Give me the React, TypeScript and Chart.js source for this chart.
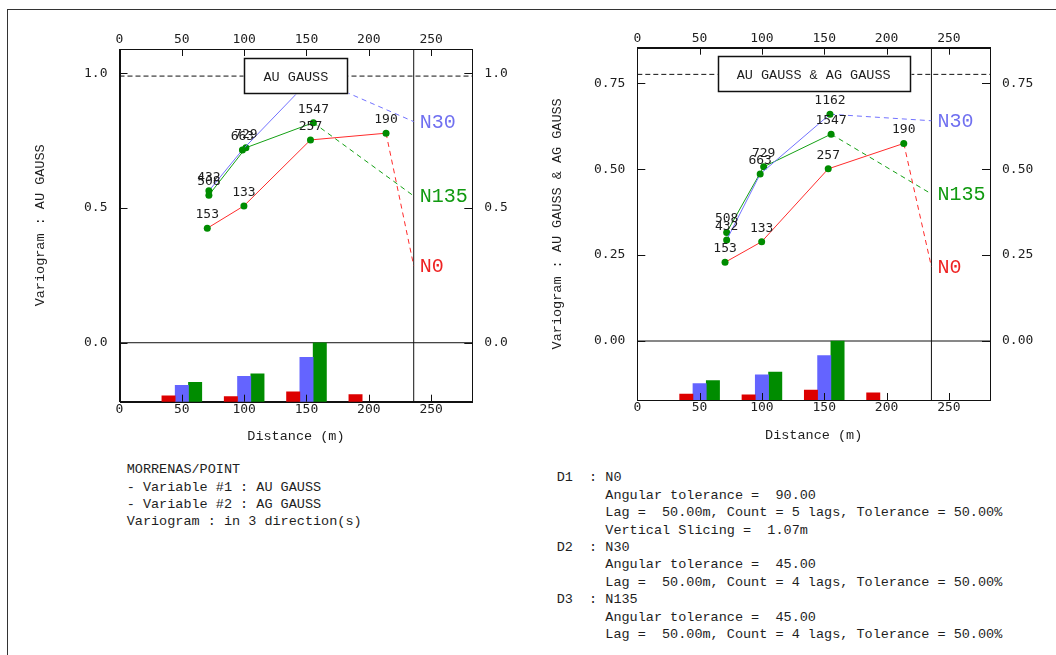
import React, { useEffect, useRef } from "react";
import { Chart, registerables } from "chart.js";

Chart.register(...registerables);

// Directions of the experimental variograms
const DIRECTIONS = ["N0", "N30", "N135"];
// Lag centres used for the pair-count histogram
const LAG_CENTRES = [50, 100, 150, 200];

// Mean pair distance of each lag (m)
const DIST_N0 = [70.4, 99.8, 153.2, 213.8];
const DIST_N30 = [71.7, 98.6, 154.6];
const DIST_N135 = [71.7, 101.4, 155.5];

// Number of pairs in each lag
const PAIRS_N0 = [153, 133, 257, 190];
const PAIRS_N30 = [432, 663, 1162];
const PAIRS_N135 = [508, 729, 1547];

// AU GAUSS simple variogram
const AU_N0 = [0.425, 0.508, 0.753, 0.778];
const AU_N30 = [0.564, 0.716, 0.985];
const AU_N135 = [0.548, 0.724, 0.817];
const AU_END = [0.286, 0.821, 0.545];
const AU_SILL = 0.99;

// AU GAUSS & AG GAUSS cross-variogram
const AUAG_N0 = [0.229, 0.289, 0.501, 0.575];
const AUAG_N30 = [0.294, 0.486, 0.66];
const AUAG_N135 = [0.316, 0.507, 0.602];
const AUAG_END = [0.216, 0.641, 0.428];
const AUAG_SILL = 0.776;

// Axis ticks
const DIST_TICKS = [0, 50, 100, 150, 200, 250];
const AU_TICKS = [0, 0.5, 1.0];
const AUAG_TICKS = [0, 0.25, 0.5, 0.75];

const DIST_MAX = 283;
const MAX_DIST_LINE = 236;

const LINE_COLORS = ["#ff2b2b", "#7272ff", "#14a014"];
const BAR_COLORS = ["#dd0000", "#6464ff", "#008c00"];
const LABEL_COLORS = ["#ee2222", "#7070f0", "#119a11"];
const MARKER_COLOR = "#008c00";
const INK = "#1e1e1e";

const MONO = "'Liberation Mono', 'DejaVu Sans Mono', monospace";
const DIGITS = "'DejaVu Sans Mono', monospace";

const INFO_LEFT = [
  "MORRENAS/POINT",
  "- Variable #1 : AU GAUSS",
  "- Variable #2 : AG GAUSS",
  "Variogram : in 3 direction(s)",
];

const INFO_RIGHT = [
  "D1  : N0",
  "      Angular tolerance =  90.00",
  "      Lag =  50.00m, Count = 5 lags, Tolerance = 50.00%",
  "      Vertical Slicing =  1.07m",
  "D2  : N30",
  "      Angular tolerance =  45.00",
  "      Lag =  50.00m, Count = 4 lags, Tolerance = 50.00%",
  "D3  : N135",
  "      Angular tolerance =  45.00",
  "      Lag =  50.00m, Count = 4 lags, Tolerance = 50.00%",
];

type AxisSizes = {
  y: number;
  y2: number;
  x2: number;
  x: number;
  yTitlePad: number;
  xTitlePad: number;
};

type PanelProps = {
  title: string;
  yTitle: string;
  values: number[][];
  ends: number[];
  sill: number;
  yMin: number;
  yMax: number;
  yTicks: number[];
  decimals: number;
  left: number;
  top: number;
  width: number;
  height: number;
  axes: AxisSizes;
};

function VariogramPanel(p: PanelProps) {
  const ref = useRef<HTMLCanvasElement>(null);

  useEffect(() => {
    if (!ref.current) return;
    const dists = [DIST_N0, DIST_N30, DIST_N135];
    const pairs = [PAIRS_N0, PAIRS_N30, PAIRS_N135];
    const maxPairs = Math.max(...pairs.flat());
    // the largest pair count fills the strip below the zero line
    const countMax = (maxPairs * (p.yMax - p.yMin)) / (0 - p.yMin);

    const refLine = (label: string, data: { x: number; y: number }[], dash: number[]) => ({
      type: "line",
      label,
      data,
      borderColor: "#111",
      borderWidth: 1,
      borderDash: dash,
      pointRadius: 0,
      fill: false,
      xAxisID: "x",
      yAxisID: "y",
      order: 5,
    });

    const bars = pairs.map((pc, k) => ({
      type: "bar",
      label: DIRECTIONS[k] + " pairs",
      data: pc.map((c, i) => ({ x: LAG_CENTRES[i], y: c })),
      backgroundColor: BAR_COLORS[k],
      borderWidth: 0,
      barThickness: 13.3,
      grouped: true,
      xAxisID: "x",
      yAxisID: "yCount",
      order: 4,
    }));

    const lines = p.values.map((vals, k) => {
      const n = vals.length;
      return {
        type: "line",
        label: DIRECTIONS[k],
        data: [
          ...vals.map((v, i) => ({ x: dists[k][i], y: v })),
          { x: MAX_DIST_LINE, y: p.ends[k] },
        ],
        borderColor: LINE_COLORS[k],
        borderWidth: 1,
        tension: 0,
        fill: false,
        pointRadius: (c: any) => (c.dataIndex < n ? 3.5 : 0),
        pointHoverRadius: 0,
        pointBackgroundColor: MARKER_COLOR,
        pointBorderWidth: 0,
        segment: {
          borderDash: (c: any) => (c.p1DataIndex === n ? [5, 4] : undefined),
        },
        xAxisID: "x",
        yAxisID: "y",
        order: 1,
      };
    });

    const refs = [
      refLine("zero", [{ x: 0, y: 0 }, { x: DIST_MAX, y: 0 }], []),
      refLine("sill", [{ x: 0, y: p.sill }, { x: DIST_MAX, y: p.sill }], [5, 3]),
      refLine("max distance", [{ x: MAX_DIST_LINE, y: p.yMin }, { x: MAX_DIST_LINE, y: p.yMax }], []),
    ];

    const datasets: any[] = [...refs, ...bars, ...lines];
    const lineIndex = lines.map((_, k) => refs.length + bars.length + k);

    const tickFont = { family: DIGITS, size: 13, lineHeight: 1.2 };
    const titleFont = { family: MONO, size: 13.5, lineHeight: 1.2 };
    const grid = () => ({ display: true, drawOnChartArea: false, drawTicks: false, offset: false });
    const border = () => ({ display: true, color: "#111", width: 1 });

    const distAxis = (position: string, size: number, pad: number, title: any) => ({
      type: "linear",
      position,
      min: 0,
      max: DIST_MAX,
      offset: false,
      bounds: "data",
      grid: grid(),
      border: border(),
      afterBuildTicks: (s: any) => {
        s.ticks = DIST_TICKS.map((v) => ({ value: v }));
      },
      ticks: {
        font: tickFont,
        color: INK,
        padding: pad,
        maxRotation: 0,
        autoSkip: false,
        callback: (v: any) => String(v),
      },
      title,
      afterFit: (s: any) => {
        s.height = size;
      },
    });

    const valueAxis = (position: string, size: number, title: any) => ({
      type: "linear",
      position,
      min: p.yMin,
      max: p.yMax,
      offset: false,
      bounds: "data",
      grid: grid(),
      border: border(),
      afterBuildTicks: (s: any) => {
        s.ticks = p.yTicks.map((v) => ({ value: v }));
      },
      ticks: {
        font: tickFont,
        color: INK,
        padding: 12,
        autoSkip: false,
        callback: (v: any) => Number(v).toFixed(p.decimals),
      },
      title,
      afterFit: (s: any) => {
        s.width = size;
      },
    });

    const annotate = {
      id: "annotate",
      afterDatasetsDraw(chart: any) {
        const ctx = chart.ctx;
        const a = chart.chartArea;
        ctx.save();
        // pair counts above the experimental points
        ctx.font = `13px ${DIGITS}`;
        ctx.fillStyle = INK;
        ctx.textAlign = "center";
        ctx.textBaseline = "middle";
        lineIndex.forEach((di, k) => {
          const meta = chart.getDatasetMeta(di);
          pairs[k].forEach((c, i) => {
            const e = meta.data[i];
            ctx.fillText(String(c), e.x, e.y - 13.5);
          });
        });
        // direction names at the end of each curve
        ctx.font = `20px ${MONO}`;
        ctx.textAlign = "left";
        lineIndex.forEach((di, k) => {
          const meta = chart.getDatasetMeta(di);
          const e = meta.data[meta.data.length - 1];
          ctx.fillStyle = LABEL_COLORS[k];
          ctx.fillText(DIRECTIONS[k], e.x + 6, e.y + 1);
        });
        // variable name box
        ctx.font = `13.5px ${MONO}`;
        const tw = ctx.measureText(p.title).width;
        const bw = Math.round(tw + 38);
        const bh = 35;
        const cx = (a.left + a.right) / 2;
        const bx = Math.round(cx - bw / 2) + 0.5;
        const by = Math.round(a.top + 8.5) + 0.5;
        ctx.fillStyle = "#fff";
        ctx.fillRect(bx - 1, by - 1, bw + 2, bh + 2);
        ctx.strokeStyle = "#111";
        ctx.lineWidth = 1.5;
        ctx.strokeRect(bx, by, bw, bh);
        ctx.fillStyle = INK;
        ctx.textAlign = "center";
        ctx.fillText(p.title, cx, by + bh / 2 + 1);
        ctx.restore();
      },
      afterDraw(chart: any) {
        const ctx = chart.ctx;
        const a = chart.chartArea;
        const { x, x2, y, y2 } = chart.scales;
        ctx.save();
        ctx.strokeStyle = "#111";
        ctx.lineWidth = 1;
        // plot frame
        ctx.strokeRect(
          Math.round(a.left) + 0.5,
          Math.round(a.top) + 0.5,
          Math.round(a.right) - Math.round(a.left),
          Math.round(a.bottom) - Math.round(a.top)
        );
        // tick marks pointing into the plot
        ctx.beginPath();
        x.ticks.forEach((t: any) => {
          const px = Math.round(x.getPixelForValue(t.value)) + 0.5;
          ctx.moveTo(px, a.bottom);
          ctx.lineTo(px, a.bottom - 7);
        });
        x2.ticks.forEach((t: any) => {
          const px = Math.round(x2.getPixelForValue(t.value)) + 0.5;
          ctx.moveTo(px, a.top);
          ctx.lineTo(px, a.top + 7);
        });
        y.ticks.forEach((t: any) => {
          const py = Math.round(y.getPixelForValue(t.value)) + 0.5;
          ctx.moveTo(a.left, py);
          ctx.lineTo(a.left + 8, py);
        });
        y2.ticks.forEach((t: any) => {
          const py = Math.round(y2.getPixelForValue(t.value)) + 0.5;
          ctx.moveTo(a.right, py);
          ctx.lineTo(a.right - 8, py);
        });
        ctx.stroke();
        ctx.restore();
      },
    };

    const chart = new Chart(ref.current, {
      type: "line",
      data: { datasets },
      options: {
        animation: false,
        responsive: false,
        maintainAspectRatio: false,
        events: [],
        layout: { padding: 0 },
        plugins: { legend: { display: false }, tooltip: { enabled: false } },
        scales: {
          x: distAxis("bottom", p.axes.x, 0, {
            display: true,
            text: "Distance (m)",
            font: titleFont,
            color: INK,
            padding: { top: 0, bottom: p.axes.xTitlePad },
          }),
          x2: distAxis("top", p.axes.x2, 1.5, { display: false }),
          y: valueAxis("left", p.axes.y, {
            display: true,
            text: p.yTitle,
            font: titleFont,
            color: INK,
            padding: { top: p.axes.yTitlePad, bottom: 0 },
          }),
          y2: valueAxis("right", p.axes.y2, { display: false }),
          yCount: { type: "linear", display: false, min: 0, max: countMax, bounds: "data" },
        },
      } as any,
      plugins: [annotate],
    } as any);

    return () => chart.destroy();
  }, []);

  return (
    <canvas
      ref={ref}
      width={p.width}
      height={p.height}
      style={{ position: "absolute", left: p.left, top: p.top, width: p.width, height: p.height }}
    />
  );
}

const textBlock = (left: number, top: number, lineHeight: number): React.CSSProperties => ({
  position: "absolute",
  left,
  top,
  margin: 0,
  fontFamily: MONO,
  fontSize: "13.5px",
  lineHeight: `${lineHeight}px`,
  whiteSpace: "pre",
  color: INK,
});

export default function App() {
  return (
    <div
      style={{
        position: "fixed",
        left: 0,
        top: 0,
        width: 1056,
        height: 655,
        overflow: "hidden",
        background: "#fff",
      }}
    >
      <div
        style={{
          position: "absolute",
          left: 7,
          top: 9,
          width: 1200,
          height: 800,
          border: "1px solid #333",
          boxSizing: "border-box",
        }}
      />
      <VariogramPanel
        title="AU GAUSS"
        yTitle="Variogram : AU GAUSS"
        values={[AU_N0, AU_N30, AU_N135]}
        ends={AU_END}
        sill={AU_SILL}
        yMin={-0.219}
        yMax={1.0906}
        yTicks={AU_TICKS}
        decimals={1}
        left={12}
        top={14}
        width={526}
        height={446}
        axes={{ y: 107.5, y2: 65.7, x2: 35, x: 58.3, yTitlePad: 19.9, xTitlePad: 15.2 }}
      />
      <VariogramPanel
        title="AU GAUSS & AG GAUSS"
        yTitle="Variogram : AU GAUSS & AG GAUSS"
        values={[AUAG_N0, AUAG_N30, AUAG_N135]}
        ends={AUAG_END}
        sill={AUAG_SILL}
        yMin={-0.1717}
        yMax={0.8536}
        yTicks={AUAG_TICKS}
        decimals={2}
        left={545}
        top={14}
        width={511}
        height={446}
        axes={{ y: 92.3, y2: 66, x2: 33.7, x: 60, yTitlePad: 4.2, xTitlePad: 16.2 }}
      />
      <div style={textBlock(126.7, 461.4, 17.3)}>{INFO_LEFT.join("\n")}</div>
      <div style={textBlock(556.7, 469.3, 17.44)}>{INFO_RIGHT.join("\n")}</div>
    </div>
  );
}
